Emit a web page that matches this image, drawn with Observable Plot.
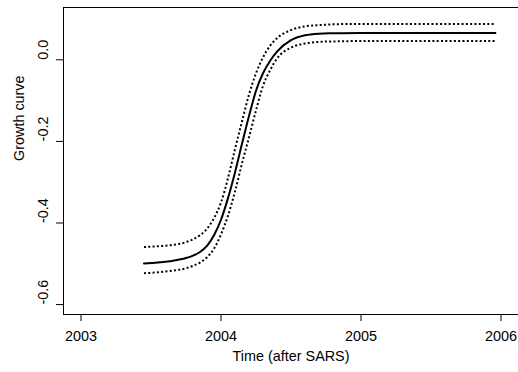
<!DOCTYPE html>
<html>
<head>
<meta charset="utf-8">
<script src="https://cdn.jsdelivr.net/npm/d3@7"></script>
<script src="https://cdn.jsdelivr.net/npm/@observablehq/plot@0.6"></script>
<style>
  html, body { margin: 0; padding: 0; background: #fff; }
  #chart svg { display: block; }
</style>
</head>
<body>
<div id="chart"></div>
<script>
const times = [2003.45, 2003.55, 2003.65, 2003.75, 2003.80, 2003.85, 2003.90, 2003.95,
  2004.00, 2004.05, 2004.10, 2004.15, 2004.20, 2004.25, 2004.30, 2004.35, 2004.40,
  2004.50, 2004.60, 2004.70, 2004.80, 2005.00, 2005.50, 2005.96];
// Fitted growth curve (solid)
const fitted = [-0.499, -0.497, -0.493, -0.486, -0.480, -0.471, -0.456, -0.430,
  -0.392, -0.339, -0.276, -0.206, -0.138, -0.076, -0.033, -0.003, 0.020,
  0.048, 0.060, 0.064, 0.065, 0.066, 0.066, 0.066];
// Upper confidence band (dotted)
const upper = [-0.459, -0.457, -0.454, -0.447, -0.440, -0.430, -0.414, -0.388,
  -0.350, -0.290, -0.219, -0.151, -0.085, -0.033, 0.006, 0.034, 0.053,
  0.073, 0.082, 0.085, 0.087, 0.088, 0.088, 0.088];
// Lower confidence band (dotted)
const lower = [-0.523, -0.521, -0.517, -0.511, -0.505, -0.497, -0.484, -0.463,
  -0.428, -0.382, -0.323, -0.254, -0.190, -0.124, -0.064, -0.026, 0.003,
  0.030, 0.040, 0.044, 0.045, 0.046, 0.046, 0.046];

const xTicks = [2003, 2004, 2005, 2006];
const yTicks = [0.0, -0.2, -0.4, -0.6];
const xTitle = "Time (after SARS)";
const yTitle = "Growth curve";

const xDomain = [2002.875, 2006.125];
const yDomain = [-0.6243, 0.1282];

const rows = times.map((t, i) => ({t, fitted: fitted[i], upper: upper[i], lower: lower[i]}));

const font = "'Liberation Sans', Arial, Helvetica, sans-serif";

const chart = Plot.plot({
  width: 518,
  height: 372,
  marginLeft: 63,
  marginRight: 0,
  marginTop: 7,
  marginBottom: 58,
  style: {fontFamily: font, fontSize: "14.4px", color: "#000", background: "#fff", overflow: "visible"},
  x: {domain: xDomain, label: null},
  y: {domain: yDomain, label: null},
  marks: [
    // box (top, bottom, left)
    Plot.ruleY([yDomain[1]], {stroke: "#000", strokeWidth: 1}),
    Plot.ruleY([yDomain[0]], {stroke: "#000", strokeWidth: 1}),
    Plot.ruleX([xDomain[0]], {stroke: "#000", strokeWidth: 1}),
    // axes
    Plot.axisX({ticks: xTicks, tickSize: 7, tickPadding: 9, tickFormat: d => String(d), stroke: "#000", fill: "#000"}),
    Plot.axisY({ticks: yTicks, tickSize: 7, text: null, stroke: "#000"}),
    Plot.text(yTicks, {y: d => d, frameAnchor: "left", dx: -20, rotate: -90, text: d => d.toFixed(1), fill: "#000"}),
    Plot.text([xTitle], {frameAnchor: "bottom", dy: 46, text: d => d, fill: "#000"}),
    Plot.text([yTitle], {frameAnchor: "left", dx: -44, rotate: -90, text: d => d, fill: "#000"}),
    // curves
    Plot.line(rows, {x: "t", y: "upper", stroke: "#000", strokeWidth: 2, strokeDasharray: "2,2.3", strokeLinecap: "butt", curve: "monotone-x"}),
    Plot.line(rows, {x: "t", y: "lower", stroke: "#000", strokeWidth: 2, strokeDasharray: "2,2.3", strokeLinecap: "butt", curve: "monotone-x"}),
    Plot.line(rows, {x: "t", y: "fitted", stroke: "#000", strokeWidth: 2, curve: "monotone-x"})
  ]
});
document.getElementById("chart").appendChild(chart);
</script>
</body>
</html>
